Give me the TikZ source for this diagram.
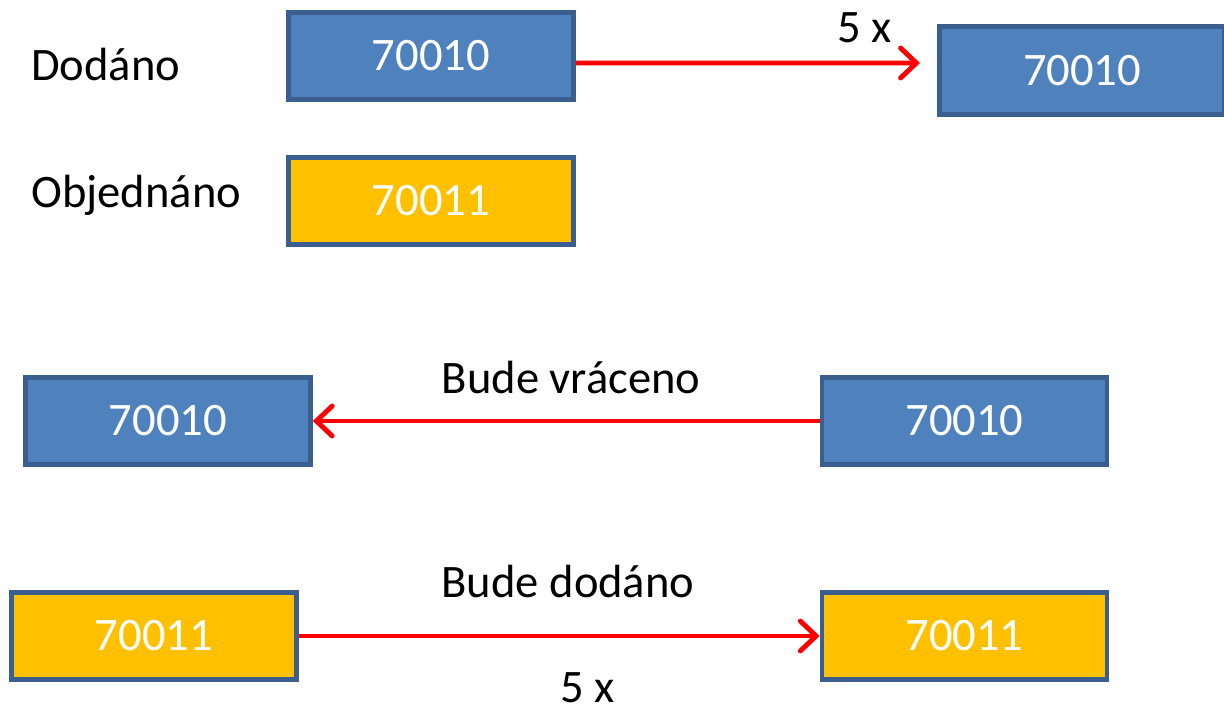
\documentclass[tikz,border=0pt]{standalone}
\usepackage{fontspec}
\setmainfont{Carlito}
\usetikzlibrary{arrows.meta}
\definecolor{boxblue}{HTML}{4F81BD}
\definecolor{boxedge}{HTML}{3A5F8E}
\definecolor{boxyellow}{HTML}{FFC000}

\begin{document}
\begin{tikzpicture}[auto,
    item/.style ={rectangle, draw=boxedge, line width=2.6pt, minimum width=5.7cm, minimum height=1.75cm,
      text=white, font=\fontsize{26.5}{30}\selectfont},
    delivered/.style ={item, fill=boxblue},
    ordered/.style ={item, fill=boxyellow},
    label/.style ={font=\fontsize{26.5}{30}\selectfont},
    move/.style ={red, line width=2.8pt, -{Straight Barb[length=9pt,width=17pt,line cap=round]}}]
   \useasboundingbox (0,0) rectangle (24.48,14.26);
   \node[label, anchor=west] (dodano)  at (0.5,12.96)  {Dodáno};
   \node[label, anchor=west] (objednano)  at (0.5,10.36)  {Objednáno};
   \node[delivered] (A1)  at (8.62,13.14)  {70010};
   \node[delivered] (A2)  at (21.64,12.85)  {70010};
   \node[ordered] (B1)  at (8.62,10.24)  {70011};
   \node[delivered] (C1)  at (3.36,5.84)  {70010};
   \node[delivered] (C2)  at (19.29,5.84)  {70010};
   \node[ordered] (D1)  at (3.08,1.54)  {70011};
   \node[ordered] (D2)  at (19.29,1.54)  {70011};
   \node[label] (times1)  at (17.3,13.7)  {5 x};
   \node[label] (vraceno)  at (11.42,6.7)  {Bude vráceno};
   \node[label] (budedodano)  at (11.36,2.62)  {Bude dodáno};
   \node[label, inner sep=0pt] (times2)  at (11.76,0.5)  {5 x};
   \coordinate (tip) at (18.4,13.0);
   \draw[move] ([yshift=-0.14cm]A1.east) to  (tip);
   \draw[move] (C2) to  (C1);
   \draw[move] (D1) to  (D2);
 \end{tikzpicture}
\end{document}
